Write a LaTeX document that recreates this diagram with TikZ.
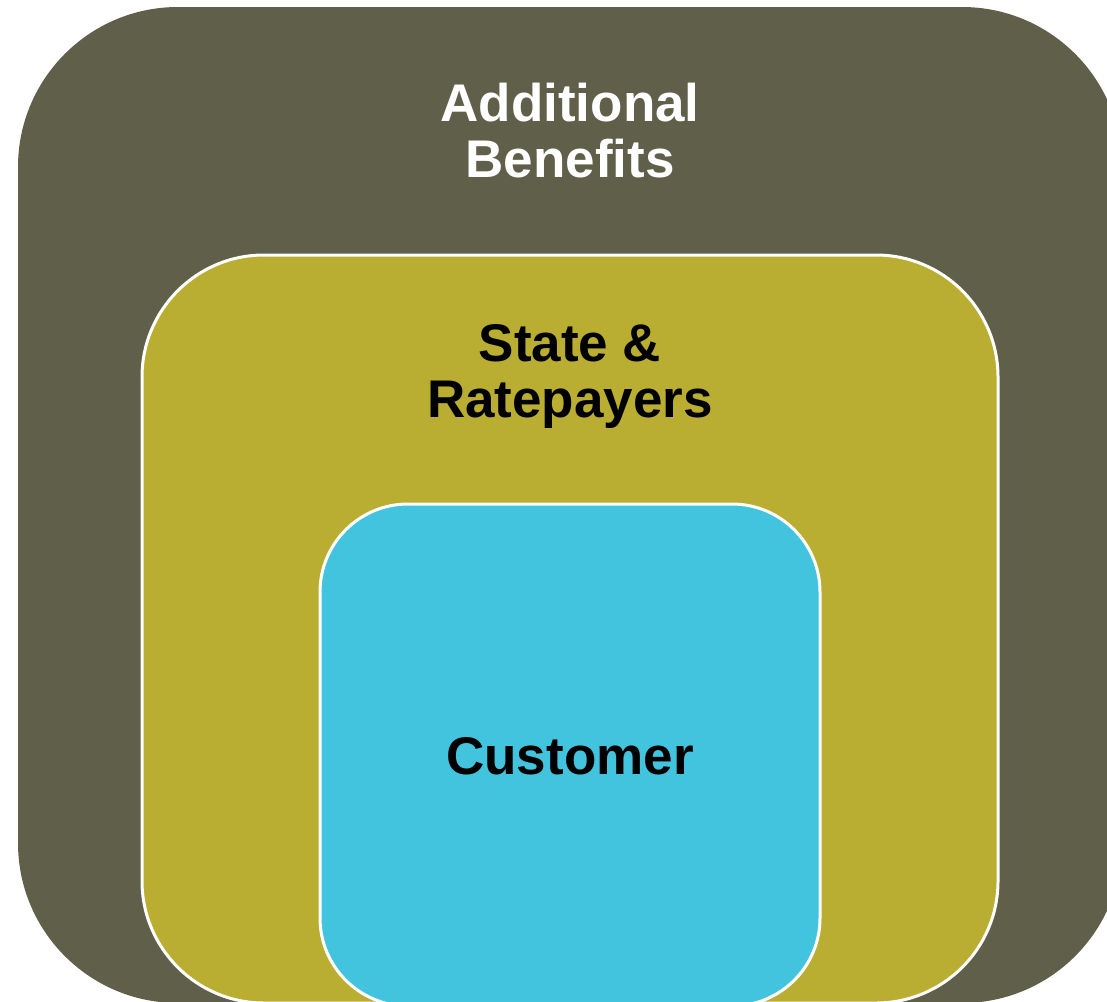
\documentclass[tikz,border=0pt]{standalone}
\usepackage{fontspec}
\setmainfont{Liberation Sans}
\usepackage{tikz}
\usetikzlibrary{positioning}

\definecolor{benefitgrey}{HTML}{5F5F4A}
\definecolor{stateolive}{HTML}{BAAE32}
\definecolor{customercyan}{HTML}{42C4DE}

\begin{document}
\begin{tikzpicture}[x=1pt,y=-1pt,inner sep=0pt,outer sep=0pt,
                    font=\fontsize{53}{56}\selectfont\bfseries]
          \tikzstyle{layer}=[draw=white,line width=3pt,rectangle]
          \tikzstyle{caption}=[align=center]

          \useasboundingbox (0,0) rectangle (1107,1001);
          \clip (0,0) rectangle (1107,1001);

          % nested rings, outermost first
          \node[layer,draw=none,fill=benefitgrey,rounded corners=160pt,
                minimum width=1104pt,minimum height=996pt] (benefits) at (570,505) {};
          \node[layer,fill=stateolive,rounded corners=122pt,
                minimum width=856pt,minimum height=748pt] (state) at (570,629) {};
          \node[layer,fill=customercyan,rounded corners=88pt,
                minimum width=500pt,minimum height=502pt] (customer) at (570,755) {};

          % labels
          \node[caption,text=white] (benefitstext) at (570,131) {Additional\\Benefits};
          \node[caption,text=black] (statetext) at (570,376) {State \&\\Ratepayers};
          \node[caption,text=black] (customertext) at (570,756) {Customer};

\end{tikzpicture}
\end{document}
